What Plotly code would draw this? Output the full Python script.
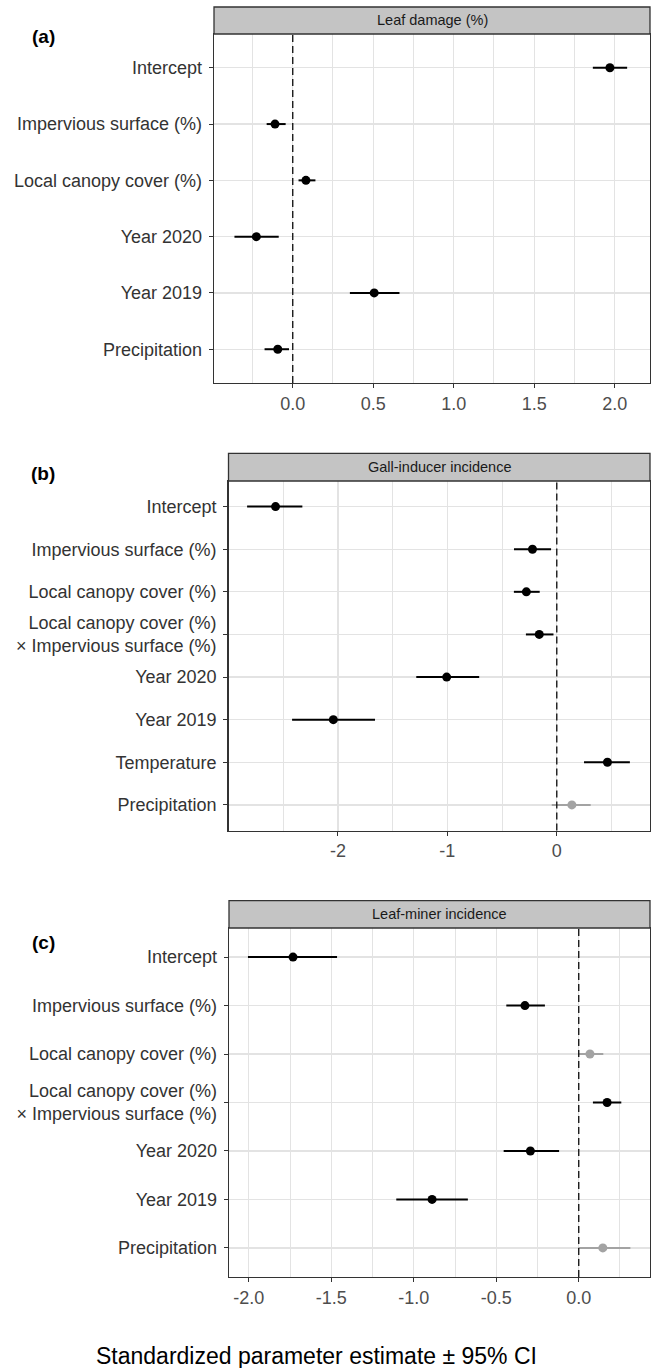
import plotly.graph_objects as go

W, H = 654, 1368

# ---------------- data ----------------
a_terms = ["Intercept", "Impervious surface (%)", "Local canopy cover (%)",
           "Year 2020", "Year 2019", "Precipitation"]
a_est = [1.970, -0.110, 0.082, -0.226, 0.506, -0.093]
a_lo = [1.864, -0.162, 0.036, -0.362, 0.355, -0.175]
a_hi = [2.077, -0.044, 0.141, -0.087, 0.663, -0.023]
a_sig = [True, True, True, True, True, True]

INTER = "Local canopy cover (%)<br>× Impervious surface (%)"
b_terms = ["Intercept", "Impervious surface (%)", "Local canopy cover (%)", INTER,
           "Year 2020", "Year 2019", "Temperature", "Precipitation"]
b_est = [-2.570, -0.222, -0.278, -0.160, -1.006, -2.042, 0.463, 0.138]
b_lo = [-2.830, -0.391, -0.392, -0.282, -1.284, -2.419, 0.249, -0.046]
b_hi = [-2.325, -0.052, -0.156, -0.030, -0.709, -1.661, 0.668, 0.310]
b_sig = [True, True, True, True, True, True, True, False]

c_terms = ["Intercept", "Impervious surface (%)", "Local canopy cover (%)", INTER,
           "Year 2020", "Year 2019", "Precipitation"]
c_est = [-1.732, -0.326, 0.068, 0.172, -0.293, -0.889, 0.146]
c_lo = [-2.005, -0.439, -0.003, 0.086, -0.455, -1.106, -0.002]
c_hi = [-1.465, -0.205, 0.149, 0.258, -0.119, -0.672, 0.313]
c_sig = [True, True, False, True, True, True, False]

a_ticks = [0.0, 0.5, 1.0, 1.5, 2.0]
a_ticklabels = ["0.0", "0.5", "1.0", "1.5", "2.0"]
b_ticks = [-2, -1, 0]
b_ticklabels = ["-2", "-1", "0"]
c_ticks = [-2.0, -1.5, -1.0, -0.5, 0.0]
c_ticklabels = ["-2.0", "-1.5", "-1.0", "-0.5", "0.0"]

strip_titles = ["Leaf damage (%)", "Gall-inducer incidence", "Leaf-miner incidence"]
panel_tags = ["(a)", "(b)", "(c)"]
x_title = "Standardized parameter estimate ± 95% CI"

# ---------------- layout geometry (pixels) ----------------
FONT = "Liberation Sans, Arial, sans-serif"
panels = [
    dict(terms=a_terms, est=a_est, lo=a_lo, hi=a_hi, sig=a_sig,
         ticks=a_ticks, labels=a_ticklabels,
         left=214, top=34, bottom=383, strip_top=7, xr=[-0.489, 2.219],
         minor=0.25, tag_y=37),
    dict(terms=b_terms, est=b_est, lo=b_lo, hi=b_hi, sig=b_sig,
         ticks=b_ticks, labels=b_ticklabels,
         left=228.5, top=481, bottom=830.5, strip_top=453.3, xr=[-3.0, 0.852],
         minor=0.5, tag_y=473),
    dict(terms=c_terms, est=c_est, lo=c_lo, hi=c_hi, sig=c_sig,
         ticks=c_ticks, labels=c_ticklabels,
         left=229, top=928, bottom=1277, strip_top=900.7, xr=[-2.12, 0.432],
         minor=0.25, tag_y=942),
]
RIGHT = 650

def px(x):
    return x / W

def py(y):
    return 1 - y / H

fig = go.Figure()
shapes = []
annotations = []
layout_axes = {}

BLACK = "#000000"
GREY = "#a3a3a3"
GRID = "#e3e3e3"
BORDER = "#333333"

for i, p in enumerate(panels):
    k = "" if i == 0 else str(i + 1)
    xa, ya = "x" + k, "y" + k
    for sig_flag, col in [(True, BLACK), (False, GREY)]:
        idx = [j for j, s in enumerate(p["sig"]) if s == sig_flag]
        if not idx:
            continue
        fig.add_trace(go.Scatter(
            x=[p["est"][j] for j in idx],
            y=[p["terms"][j] for j in idx],
            mode="markers",
            marker=dict(color=col, size=9),
            error_x=dict(type="data", symmetric=False,
                         array=[p["hi"][j] - p["est"][j] for j in idx],
                         arrayminus=[p["est"][j] - p["lo"][j] for j in idx],
                         color=col, thickness=2, width=0),
            xaxis=xa, yaxis=ya, showlegend=False, hoverinfo="skip",
        ))
    n = len(p["terms"])
    layout_axes["xaxis" + k] = dict(
        domain=[px(p["left"]), px(RIGHT)], anchor=ya, range=p["xr"],
        tickmode="array", tickvals=p["ticks"], ticktext=p["labels"],
        showgrid=True, gridcolor=GRID, gridwidth=1.2, zeroline=False,
        minor=dict(dtick=p["minor"], tick0=0, showgrid=True, gridcolor=GRID,
                   gridwidth=1, ticklen=0),
        showline=True, linecolor=BORDER, linewidth=1.3, mirror=True,
        ticks="outside", ticklen=4, tickcolor=BORDER, tickwidth=1,
        tickfont=dict(family=FONT, size=18, color="#4d4d4d"),
        fixedrange=True,
    )
    layout_axes["yaxis" + k] = dict(
        domain=[py(p["bottom"]), py(p["top"])], anchor=xa,
        type="category", categoryorder="array", categoryarray=p["terms"],
        range=[n - 1 + 0.6, -0.6],
        showgrid=True, gridcolor=GRID, gridwidth=1.2, zeroline=False,
        showline=True, linecolor=BORDER, linewidth=1.3, mirror=True,
        ticks="outside", ticklen=4, tickcolor=BORDER, tickwidth=1,
        ticklabelstandoff=3,
        tickfont=dict(family=FONT, size=18, color="#333333"),
        fixedrange=True,
    )
    # dashed zero reference line
    shapes.append(dict(type="line", xref=xa, yref="paper",
                       x0=0, x1=0, y0=py(p["bottom"]), y1=py(p["top"]),
                       layer="above",
                       line=dict(color="#1a1a1a", width=1.4, dash="7px,4px")))
    # facet strip
    shapes.append(dict(type="rect", xref="paper", yref="paper",
                       x0=px(p["left"]), x1=px(RIGHT),
                       y0=py(p["top"]), y1=py(p["strip_top"]),
                       fillcolor="#c4c4c4", line=dict(color=BORDER, width=1.3)))
    annotations.append(dict(text=strip_titles[i], xref="paper", yref="paper",
                            x=px((p["left"] + RIGHT) / 2),
                            y=py((p["top"] + p["strip_top"]) / 2),
                            xanchor="center", yanchor="middle", showarrow=False,
                            font=dict(family=FONT, size=14.5, color="#1a1a1a")))
    annotations.append(dict(text="<b>" + panel_tags[i] + "</b>", xref="paper",
                            yref="paper", x=px(43), y=py(p["tag_y"]),
                            xanchor="center", yanchor="middle", showarrow=False,
                            font=dict(family=FONT, size=19, color="#000000")))

annotations.append(dict(text=x_title, xref="paper", yref="paper",
                        x=px(316), y=py(1356), xanchor="center",
                        yanchor="middle", showarrow=False,
                        font=dict(family=FONT, size=23, color="#000000")))

fig.update_layout(
    width=W, height=H, margin=dict(l=0, r=0, t=0, b=0),
    paper_bgcolor="white", plot_bgcolor="white",
    shapes=shapes, annotations=annotations, **layout_axes,
)

fig.write_html(
    "out.html",
    config={"displayModeBar": False, "staticPlot": True},
    post_script="document.body.style.margin='0';document.body.style.overflow='hidden';",
)
